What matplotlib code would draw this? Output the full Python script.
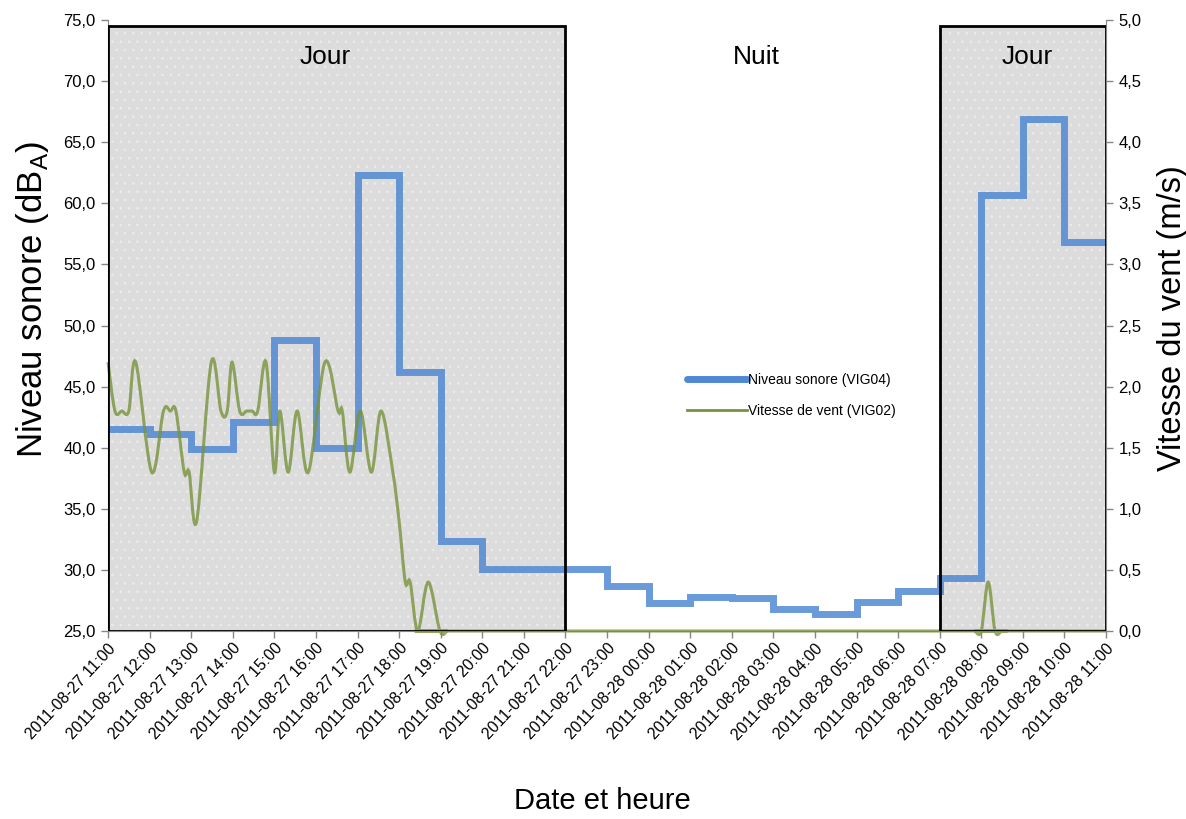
import datetime
import matplotlib
matplotlib.use("Agg")
import matplotlib.pyplot as plt
import matplotlib.dates as mdates
from matplotlib.path import Path
from matplotlib.patches import PathPatch
from matplotlib.lines import Line2D
from matplotlib.ticker import FuncFormatter, MultipleLocator

plt.rcParams['font.family'] = ['Liberation Sans', 'DejaVu Sans']
plt.rcParams['mathtext.fontset'] = 'custom'
plt.rcParams['mathtext.rm'] = 'Liberation Sans'
plt.rcParams['hatch.linewidth'] = 0.6

# Data
start = datetime.datetime(2011, 8, 27, 11, 0)
hours = [start + datetime.timedelta(hours=h) for h in range(25)]

# hourly noise level (dBA), VIG04, one value per hour 11:00 -> 10:00
noise = [41.5, 41.1, 39.9, 42.1, 48.8, 40.0, 62.3, 46.2, 32.4, 30.1, 30.1,
         30.1, 28.7, 27.3, 27.8, 27.7, 26.8, 26.4, 27.4, 28.3, 29.3,
         60.7, 66.9, 56.8]

# wind speed (m/s), VIG02, minutes after 11:00
wind_min = [0, 10, 20, 30, 40, 63, 80, 90, 98, 110, 117, 128, 149, 163, 172,
            179, 190, 200, 208, 216, 228, 240, 248, 260, 273, 289, 313, 332,
            338, 349, 364, 380, 394, 411, 420, 429, 436, 447, 462, 479,
            490, 500, 1240, 1250, 1260, 1270, 1280, 1290, 1300, 1440]
wind = [2.2, 1.8, 1.8, 1.8, 2.2, 1.3, 1.8, 1.8, 1.8, 1.3, 1.3, 0.9, 2.2, 1.8,
        1.8, 2.2, 1.8, 1.8, 1.8, 1.8, 2.2, 1.3, 1.8, 1.3, 1.8, 1.3, 2.2, 1.8,
        1.8, 1.3, 1.8, 1.3, 1.8, 1.3, 0.9, 0.4, 0.4, 0.0, 0.4, 0.0,
        0.0, 0.0, 0.0, 0.0, 0.0, 0.4, 0.0, 0.0, 0.0, 0.0]
wind_times = [start + datetime.timedelta(minutes=m) for m in wind_min]

# day / night periods
periods = [(hours[0], hours[11], 'Jour'), (hours[11], hours[20], 'Nuit'),
           (hours[20], hours[24], 'Jour')]
label_x = [hours[0] + datetime.timedelta(minutes=314),
           hours[11] + datetime.timedelta(minutes=275),
           hours[20] + datetime.timedelta(minutes=127)]

blue = '#4f88d3'
green = '#77933c'
grey = '#868686'

fig = plt.figure(figsize=(11.86, 8.19), dpi=100)
ax = fig.add_axes([108/1186, 1-631/819, 998/1186, 611/819])
ax2 = ax.twinx()

ax.set_xlim(mdates.date2num(hours[0]), mdates.date2num(hours[-1]))
ax.set_ylim(25, 75)
ax2.set_ylim(0, 5)

# shaded day periods
for (t0, t1, name), tx in zip(periods, label_x):
    x0, x1 = mdates.date2num(t0), mdates.date2num(t1)
    if name == 'Jour':
        ax.axvspan(x0, x1, ymin=0, ymax=0.99, facecolor='#dcdcdc', hatch='..',
                   edgecolor='#ececec', linewidth=0, zorder=0)
        ax2.axvspan(x0, x1, ymin=0, ymax=0.99, fill=False, edgecolor='black',
                    linewidth=2, zorder=5)
    ax.text(mdates.date2num(tx), 72.0, name, ha='center', va='center',
            fontsize=19, zorder=6)

# noise level steps
ax.stairs(noise, mdates.date2num(hours), baseline=None, color=blue, alpha=0.85,
          linewidth=5, zorder=2)

# smoothed wind line (Excel style)
px = list(mdates.date2num(wind_times))
py = wind
verts = [(px[0], py[0])]
codes = [Path.MOVETO]
n = len(px)
for i in range(n - 1):
    i0 = max(i - 1, 0)
    i3 = min(i + 2, n - 1)
    c1 = (px[i] + (px[i + 1] - px[i0]) / 6, py[i] + (py[i + 1] - py[i0]) / 6)
    c2 = (px[i + 1] - (px[i3] - px[i]) / 6, py[i + 1] - (py[i3] - py[i]) / 6)
    verts += [c1, c2, (px[i + 1], py[i + 1])]
    codes += [Path.CURVE4] * 3
ax2.add_patch(PathPatch(Path(verts, codes), fill=False, edgecolor=green,
                        alpha=0.8, linewidth=2.2, zorder=3, clip_on=False))

# axes styling
ax.xaxis.set_major_locator(mdates.HourLocator())
ax.xaxis.set_major_formatter(mdates.DateFormatter('%Y-%m-%d %H:%M'))
ax.yaxis.set_major_locator(MultipleLocator(5))
ax2.yaxis.set_major_locator(MultipleLocator(0.5))
fmt = FuncFormatter(lambda v, p: f'{v:.1f}'.replace('.', ','))
ax.yaxis.set_major_formatter(fmt)
ax2.yaxis.set_major_formatter(fmt)

for a in (ax, ax2):
    a.spines['top'].set_visible(False)
    for s in ('left', 'right', 'bottom'):
        a.spines[s].set_color(grey)
    a.tick_params(colors=grey, length=5, width=1, labelcolor='black')
ax.spines['right'].set_visible(False)
ax2.spines['left'].set_visible(False)
ax2.spines['bottom'].set_visible(False)

ax.tick_params(axis='y', labelsize=12, pad=4)
ax2.tick_params(axis='y', labelsize=12, pad=4)
ax.tick_params(axis='x', labelsize=11.5, pad=2)
for lab in ax.get_xticklabels():
    lab.set_rotation(47)
    lab.set_ha('right')
    lab.set_va('top')
    lab.set_rotation_mode('anchor')

ax.set_ylabel(r'Niveau sonore (dB$_{\mathrm{A}}$)', fontsize=25)
ax.yaxis.set_label_coords(-0.057, 0.542)
ax2.set_ylabel('Vitesse du vent (m/s)', fontsize=23.5)
ax2.yaxis.set_label_coords(1.051, 0.512)
ax.set_xlabel('Date et heure', fontsize=21)
ax.xaxis.set_label_coords(0.495, -0.255)

handles = [Line2D([], [], color=blue, linewidth=5, solid_capstyle='round'),
           Line2D([], [], color=green, linewidth=2)]
ax2.legend(handles, ['Niveau sonore (VIG04)', 'Vitesse de vent (VIG02)'],
           loc='upper left', bbox_to_anchor=(680/1186, 1-366/819),
           bbox_transform=fig.transFigure, frameon=False,
           handlelength=4.3, handletextpad=0.1, labelspacing=1.25, borderpad=0,
           prop={'size': 10})

fig.savefig('out.png', dpi=100)
